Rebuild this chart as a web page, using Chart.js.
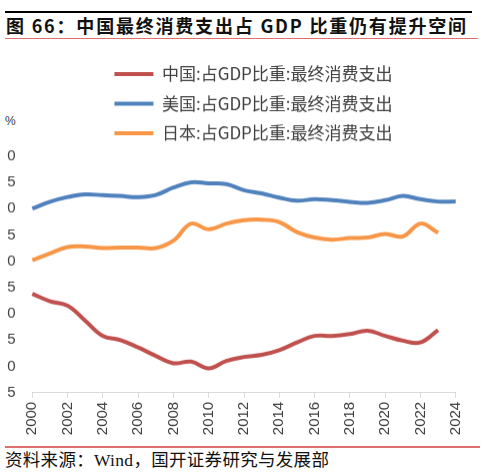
<!DOCTYPE html>
<html><head><meta charset="utf-8">
<script src="https://cdn.jsdelivr.net/npm/chart.js@4.4.0/dist/chart.umd.min.js"></script>
<style>
html,body{margin:0;padding:0;background:#fff;width:483px;height:473px;overflow:hidden;}
body{position:relative;}
#topline{position:absolute;left:5px;top:11px;width:467px;height:1.5px;background:#000;}
#title{position:absolute;left:6px;top:12px;font-family:"Noto Sans CJK SC";font-weight:700;font-size:18px;letter-spacing:1.8px;line-height:26px;color:#111;white-space:nowrap;}
#redline1{position:absolute;left:5px;top:38px;width:473px;height:1.2px;background:#e07070;}
#unit{position:absolute;left:5px;top:113px;font-family:"Liberation Sans";font-size:12px;line-height:16px;color:#404040;}
#clip{position:absolute;left:7px;top:0;width:476px;height:473px;overflow:hidden;}
#wrap{position:absolute;left:-9px;top:52.75px;width:511px;height:383.75px;}
#redline2{position:absolute;left:5px;top:446px;width:475px;height:1.5px;background:#e07070;}
#source{position:absolute;left:5px;top:449px;font-family:"Liberation Serif","Noto Sans CJK SC";font-size:17.5px;letter-spacing:0.3px;line-height:22px;color:#111;white-space:nowrap;}
</style></head>
<body>
<div id="topline"></div>
<div id="title">图 66：中国最终消费支出占 GDP 比重仍有提升空间</div>
<div id="redline1"></div>
<div id="unit">%</div>
<div id="clip"><div id="wrap"><canvas id="c"></canvas></div></div>
<div id="redline2"></div>
<div id="source">资料来源：Wind，国开证券研究与发展部</div>
<script>
const years = ['2000','2001','2002','2003','2004','2005','2006','2007','2008','2009','2010','2011','2012','2013','2014','2015','2016','2017','2018','2019','2020','2021','2022','2023','2024'];
const seriesNames = ['中国:占GDP比重:最终消费支出','美国:占GDP比重:最终消费支出','日本:占GDP比重:最终消费支出'];
const china = [63.8,62.4,61.55,58.7,55.8,55.0,53.6,52.0,50.6,50.9,49.65,51.05,51.8,52.2,53.1,54.55,55.8,55.8,56.15,56.8,55.8,54.9,54.55,56.9,null];
const usa = [80.0,81.3,82.2,82.7,82.55,82.4,82.2,82.6,84.0,85.0,84.8,84.65,83.5,82.9,82.1,81.5,81.8,81.6,81.3,81.1,81.6,82.4,81.8,81.35,81.35];
const japan = [70.2,71.5,72.7,72.8,72.5,72.6,72.6,72.5,73.9,77.15,76.06,77.15,77.8,77.9,77.45,75.55,74.5,74.1,74.4,74.5,75.2,74.7,77.15,75.4,null];
const yTicks = {min:45, max:90, step:5};
const colors = ['#C0504D','#4F81BD','#F79646'];

const mk = (label, data, color) => ({label, data, borderColor:color, backgroundColor:color, borderWidth:4, pointRadius:0, pointHoverRadius:0, tension:0.4, fill:false, spanGaps:false, yAxisID:'y'});

const legendSpacer = {
  id:'legendSpacer',
  beforeUpdate(chart){
    const lg = chart.legend;
    if (lg && !lg._patched){
      const fit = lg.fit;
      lg.fit = function(){ fit.call(this); this.height += 4.25; };
      lg._patched = true;
    }
  }
};

new Chart(document.getElementById('c'), {
  type:'line',
  data:{labels:years, datasets:[mk(seriesNames[0],china,colors[0]), mk(seriesNames[1],usa,colors[1]), mk(seriesNames[2],japan,colors[2])]},
  options:{
    responsive:true, maintainAspectRatio:false, animation:false,
    layout:{padding:0},
    plugins:{
      tooltip:{enabled:false},
      legend:{position:'top', align:'center',
        labels:{boxWidth:39, boxHeight:4, padding:12.5, color:'#404040',
          font:{family:'"Noto Sans CJK SC"', size:17},
          generateLabels(chart){
            const items = Chart.defaults.plugins.legend.labels.generateLabels(chart);
            items.forEach(it => { it.lineWidth = 0; it.strokeStyle = 'rgba(0,0,0,0)'; });
            return items;
          }}}
    },
    scales:{
      x:{type:'category', offset:false,
        grid:{display:true, drawOnChartArea:false, drawTicks:true, tickLength:5, color:'#d9d9d9',
          tickColor:(ctx)=> (ctx.index % 2 === 0 ? '#d9d9d9' : 'rgba(0,0,0,0)')},
        border:{display:true, color:'#d9d9d9', width:1},
        ticks:{autoSkip:false, maxRotation:90, minRotation:90, padding:4, color:'#404040',
          font:{family:'Liberation Sans', size:15},
          callback(v,i){ return i % 2 === 0 ? this.getLabelForValue(v) : ''; }},
        afterFit(s){ s.height = 45; }},
      y:{position:'left', min:yTicks.min, max:yTicks.max,
        ticks:{stepSize:yTicks.step, padding:16.7, color:'#404040', font:{family:'Liberation Sans', size:15}},
        grid:{display:false, drawTicks:false}, border:{display:false},
        afterFit(s){ s.width = 34.3; }},
      y2:{position:'right', display:true, min:0, max:1,
        grid:{display:false, drawTicks:false}, border:{display:false}, ticks:{display:false},
        afterFit(s){ s.width = 53.3; }}
    }
  },
  plugins:[legendSpacer]
});
</script>
</body></html>
